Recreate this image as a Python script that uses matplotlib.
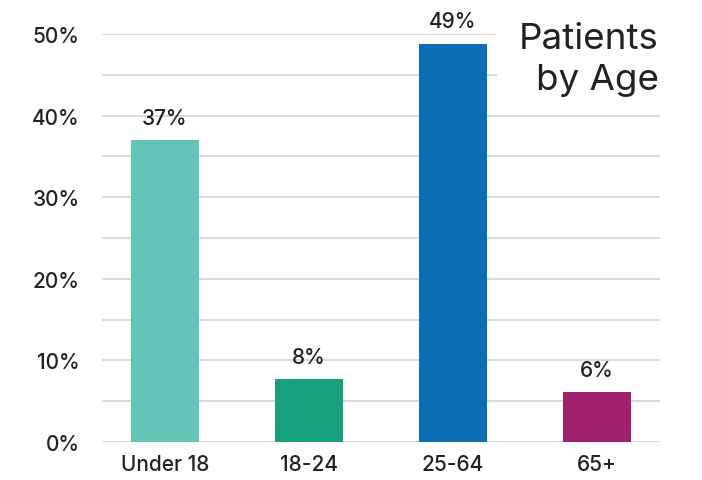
import matplotlib.pyplot as plt
from matplotlib.patches import Rectangle

# data
groups = ['Under 18', '18-24', '25-64', '65+']
share = [37.0, 7.7, 48.8, 6.1]
share_labels = ['37%', '8%', '49%', '6%']
bar_colors = ['#63c5b8', '#17a07e', '#0c6eb5', '#a0206e']
yticks = [0, 10, 20, 30, 40, 50]
ytick_labels = ['0%', '10%', '20%', '30%', '40%', '50%']

plt.rcParams['font.family'] = ['Inter', 'DejaVu Sans']
plt.rcParams['font.weight'] = 500
txt = '#222222'

fig = plt.figure(figsize=(7.02, 4.81), dpi=100)
ax = fig.add_axes([102/702, 38/481, 558/702, 408/481])

x = range(len(groups))
ax.bar(x, share, width=0.472, color=bar_colors, zorder=2)
for xi, v, lab in zip(x, share, share_labels):
    ax.annotate(lab, (xi, v), xytext=(0, 9), textcoords='offset points',
                ha='center', va='bottom', fontsize=15, color=txt)

ax.set_xlim(-0.4375, 3.4375)
ax.set_ylim(0, 50)
ax.set_yticks(yticks)
ax.set_yticks([5, 15, 25, 35, 45], minor=True)
ax.set_yticklabels(ytick_labels)
ax.set_xticks(list(x))
ax.set_xticklabels(groups)
ax.tick_params(axis='y', which='both', length=0, pad=16, labelsize=15, labelcolor=txt)
ax.tick_params(axis='x', length=0, pad=9, labelsize=15, labelcolor=txt)
ax.grid(axis='y', which='both', color='#dcdcdc', linewidth=1.4, zorder=0)
ax.set_axisbelow(True)
for s in ax.spines.values():
    s.set_visible(False)

# white box behind the title hides the top gridlines
ax.add_patch(Rectangle((2.306, 42.2), 1.2, 10, facecolor='white',
                       edgecolor='none', zorder=1, clip_on=False))
ax.text(3.43, 46.9, 'Patients\nby Age', ha='right', va='center',
        multialignment='right', fontsize=26.5, fontweight='normal',
        color=txt, linespacing=1.3, zorder=3)

fig.savefig('out.png', dpi=100)
